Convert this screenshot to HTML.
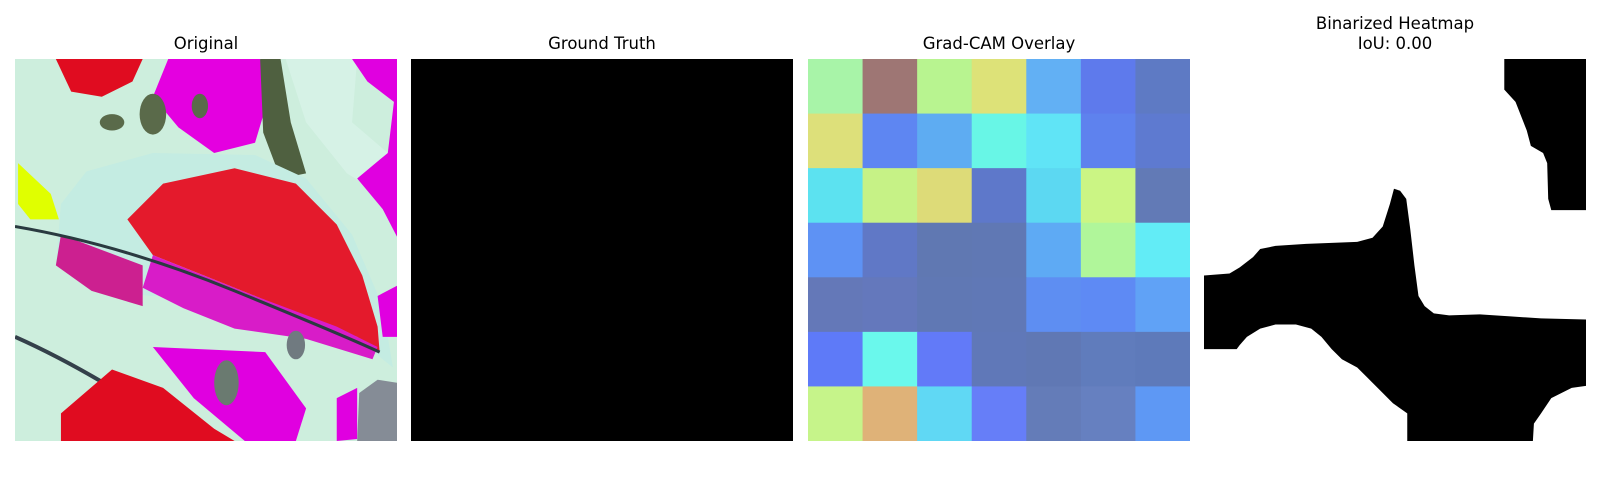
<!DOCTYPE html>
<html><head><meta charset="utf-8">
<style>
html,body{margin:0;padding:0;background:#fff;}
#fig{position:relative;width:1600px;height:500px;background:#fff;font-family:"DejaVu Sans","Liberation Sans",sans-serif;}
.ttl{position:absolute;width:382px;text-align:center;font-size:16.5px;color:#000;line-height:20px;}
.ax{position:absolute;top:59px;width:382px;height:382px;overflow:hidden;}
</style></head>
<body>
<div id="fig">
  <div class="ttl" style="left:15px;top:34px">Original</div>
  <div class="ttl" style="left:411px;top:34px">Ground Truth</div>
  <div class="ttl" style="left:808px;top:34px">Grad-CAM Overlay</div>
  <div class="ttl" style="left:1204px;top:14px">Binarized Heatmap<br>IoU: 0.00</div>

  <div class="ax" style="left:15px">
    <svg width="382" height="382" viewBox="15 58 374 374" preserveAspectRatio="none">
      <rect x="15" y="58" width="374" height="374" fill="#cdeedd"/>
      <polygon fill="#d6f2e6" points="280,58 350,58 345,120 380,150 389,200 340,170 300,120"/>
      <polygon fill="#e0ff00" points="18,160 50,190 58,215 30,215 18,200"/>
      <polygon fill="#e400e0" points="165,58 255,58 265,90 250,140 210,150 175,125 150,95"/>
      <polygon fill="#e000e0" points="345,58 389,58 389,232 375,205 350,175 380,150 386,100 360,80"/>
      <polygon fill="#e00c20" points="55,58 140,58 130,80 100,95 70,90"/>
      <polygon fill="#4f6040" points="255,58 275,58 285,120 300,170 275,175 258,130"/>
      <ellipse cx="150" cy="112" rx="13" ry="20" fill="#5a6a4a"/>
      <ellipse cx="196" cy="104" rx="8" ry="12" fill="#5a6a4a"/>
      <ellipse cx="110" cy="120" rx="12" ry="8" fill="#5a6a4a"/>
      <polygon fill="#c4ece2" points="85,168 150,150 250,152 300,175 345,230 375,300 385,360 360,340 330,320 280,300 220,285 150,290 90,285 55,260 60,200"/>
      <polygon fill="#e41a2c" points="125,215 160,180 230,165 290,180 330,220 355,270 370,320 372,345 350,330 300,310 250,290 200,270 150,250"/>
      <polygon fill="#d81cc8" points="150,250 250,290 330,320 370,340 365,352 300,332 230,322 180,302 140,282"/>
      <polygon fill="#cc2090" points="60,230 140,260 140,300 90,285 55,260"/>
      <path d="M15,222 Q120,240 230,285 T372,345" stroke="#2a3a40" stroke-width="3" fill="none"/>
      <path d="M15,330 Q60,350 110,380 T195,432" stroke="#34404a" stroke-width="4" fill="none"/>
      <polygon fill="#e00c20" points="60,405 110,362 160,380 210,420 230,432 60,432"/>
      <polygon fill="#e000e0" points="150,340 260,345 300,400 290,432 240,432 190,390"/>
      <ellipse cx="222" cy="375" rx="12" ry="22" fill="#6a7a70"/>
      <ellipse cx="290" cy="338" rx="9" ry="14" fill="#707a80"/>
      <polygon fill="#858c96" points="352,385 370,372 389,375 389,432 350,432"/>
      <polygon fill="#e000e0" points="370,290 389,280 389,330 375,330"/>
      <polygon fill="#e000e0" points="330,390 350,380 350,430 330,432"/>
    </svg>
  </div>

  <div class="ax" style="left:411px;background:#000"></div>

  <div class="ax" style="left:808px">
    <svg id="gc" width="382" height="382"></svg>
  </div>

  <div class="ax" style="left:1204px;background:#fff">
    <svg width="382" height="382" viewBox="1180 58 374 374" preserveAspectRatio="none">
      <polygon fill="#000" points="1474,58 1554,58 1554,206 1520,206 1517,195 1516,160 1512,150 1500,143 1496,128 1485,100 1474,88"/>
      <polygon fill="#000" points="1180,270 1205,268 1215,262 1228,252 1235,244 1250,241 1280,239 1330,237 1345,233 1355,222 1362,200 1366,185 1372,187 1378,195 1382,225 1386,260 1390,290 1396,300 1405,307 1420,309 1450,308 1480,310 1510,312 1554,313 1554,378 1540,380 1520,390 1510,405 1503,415 1502,432 1379,432 1379,405 1365,395 1350,380 1340,370 1330,360 1315,352 1305,342 1295,330 1285,322 1270,318 1250,318 1235,322 1222,330 1215,338 1212,342 1180,342"/>
    </svg>
  </div>
</div>
<script>
const row0 = ["#a8f4a8","#9e7674","#b8f490","#dde278","#62b0f4","#5e7aec","#5e7ac4"];
const row1 = ["#dde07a","#5e86f2","#5eacf2","#68f6e6","#60e4f6","#5e82ee","#5e7ad0"];
const row2 = ["#5ce2f0","#c6f286","#dddb78","#5e78ca","#5cd8f2","#cbf584","#627ab6"];
const row3 = ["#5e92f4","#6078c6","#6078b2","#6078b4","#5eaaf4","#b0f69a","#62ecf6"];
const row4 = ["#6478b8","#6478bc","#6078b4","#6078b6","#5e8ef2","#5e8af4","#60a2f6"];
const row5 = ["#5e7af8","#6af8ec","#627af8","#6078b8","#6078b4","#607cbc","#5e7aba"];
const row6 = ["#c6f48a","#dfb278","#60d8f4","#667ef8","#647cb8","#6680c0","#5e98f4"];
const cellRows = [row0,row1,row2,row3,row4,row5,row6];

const gc = document.getElementById('gc');
const N = cellRows.length, S = 382;
function xs(c){ return c * S / N; }
function ys(r){ return r * S / N; }
cellRows.forEach((row, r) => {
  row.forEach((col, c) => {
    const rect = document.createElementNS('http://www.w3.org/2000/svg','rect');
    rect.setAttribute('x', xs(c));
    rect.setAttribute('y', ys(r));
    rect.setAttribute('width', xs(c+1) - xs(c) + 0.5);
    rect.setAttribute('height', ys(r+1) - ys(r) + 0.5);
    rect.setAttribute('fill', col);
    
    
    gc.appendChild(rect);
  });
});
</script>
</body></html>
